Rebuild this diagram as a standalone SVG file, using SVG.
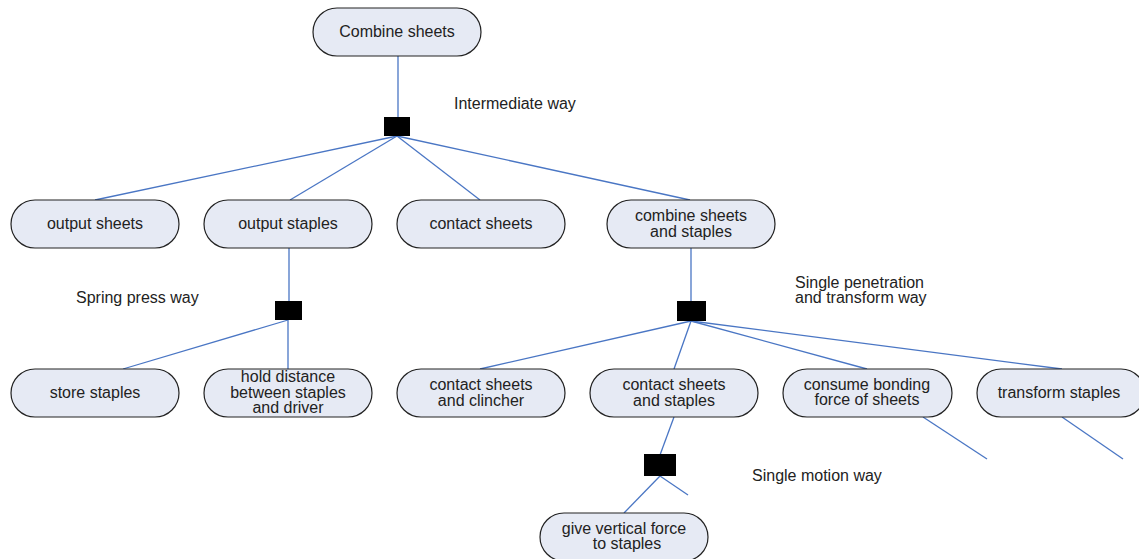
<svg xmlns="http://www.w3.org/2000/svg" width="1139" height="559" viewBox="0 0 1139 559">
<style>
.n rect{fill:#e6eaf4;stroke:#222;stroke-width:1.2}
.n text,.lbl{font-family:"Liberation Sans",Arial,sans-serif;font-size:16px;fill:#222}
.n text{text-anchor:middle}
.j{fill:#000}
#connectors line{stroke:#4a76c4;stroke-width:1.3}
</style>
<rect width="1139" height="559" fill="#fff"/>
<g id="connectors">
<line x1="398" y1="56" x2="398" y2="118"/>
<line x1="397" y1="136" x2="95" y2="200"/>
<line x1="397" y1="136" x2="290" y2="200"/>
<line x1="397" y1="136" x2="480" y2="200"/>
<line x1="397" y1="136" x2="690" y2="200"/>
<line x1="289" y1="248" x2="289" y2="302"/>
<line x1="288" y1="320" x2="123" y2="369"/>
<line x1="288" y1="320" x2="288" y2="369"/>
<line x1="691" y1="248" x2="691" y2="302"/>
<line x1="691" y1="321" x2="480" y2="369"/>
<line x1="691" y1="321" x2="674" y2="369"/>
<line x1="691" y1="321" x2="867" y2="369"/>
<line x1="691" y1="321" x2="1062" y2="369"/>
<line x1="923" y1="417" x2="987" y2="459"/>
<line x1="1062" y1="417" x2="1123" y2="459"/>
<line x1="674" y1="417" x2="660" y2="455"/>
<line x1="660" y1="476" x2="624" y2="513"/>
<line x1="660" y1="476" x2="688" y2="495"/>
</g>
<g id="junctions">
<rect id="j1" class="j" x="384" y="117" width="26" height="19"/>
<rect id="j2" class="j" x="275" y="301" width="27" height="19"/>
<rect id="j3" class="j" x="677" y="301" width="29" height="20"/>
<rect id="j4" class="j" x="644" y="454" width="32" height="22"/>
</g>
<g id="labels">
<text class="lbl" x="454" y="109">Intermediate way</text>
<text class="lbl" x="76" y="303">Spring press way</text>
<text class="lbl" x="795" y="288">Single penetration</text>
<text class="lbl" x="795" y="303">and transform way</text>
<text class="lbl" x="752" y="481">Single motion way</text>
</g>
<g id="n-combine" class="n"><rect x="313" y="8" width="168" height="48" rx="24"/><text x="397" y="37">Combine sheets</text></g>
<g id="n-output-sheets" class="n"><rect x="11" y="200" width="168" height="48" rx="24"/><text x="95" y="229">output sheets</text></g>
<g id="n-output-staples" class="n"><rect x="204" y="200" width="168" height="48" rx="24"/><text x="288" y="229">output staples</text></g>
<g id="n-contact-sheets" class="n"><rect x="397" y="200" width="168" height="48" rx="24"/><text x="481" y="229">contact sheets</text></g>
<g id="n-combine-sheets-staples" class="n"><rect x="607" y="200" width="168" height="48" rx="24"/><text x="691" y="221">combine sheets</text><text x="691" y="237">and staples</text></g>
<g id="n-store-staples" class="n"><rect x="11" y="369" width="168" height="48" rx="24"/><text x="95" y="398">store staples</text></g>
<g id="n-hold-distance" class="n"><rect x="204" y="369" width="168" height="48" rx="24"/><text x="288" y="382">hold distance</text><text x="288" y="398">between staples</text><text x="288" y="413">and driver</text></g>
<g id="n-contact-clincher" class="n"><rect x="397" y="369" width="168" height="48" rx="24"/><text x="481" y="390">contact sheets</text><text x="481" y="406">and clincher</text></g>
<g id="n-contact-staples" class="n"><rect x="590" y="369" width="168" height="48" rx="24"/><text x="674" y="390">contact sheets</text><text x="674" y="406">and staples</text></g>
<g id="n-consume-bonding" class="n"><rect x="783" y="369" width="169" height="48" rx="24"/><text x="867" y="390">consume bonding</text><text x="867" y="405">force of sheets</text></g>
<g id="n-transform-staples" class="n"><rect x="977" y="369" width="168" height="48" rx="24"/><text x="1059" y="398">transform staples</text></g>
<g id="n-give-vertical" class="n"><rect x="540" y="513" width="168" height="48" rx="24"/><text x="624" y="534">give vertical force</text><text x="627" y="549">to staples</text></g>
</svg>
